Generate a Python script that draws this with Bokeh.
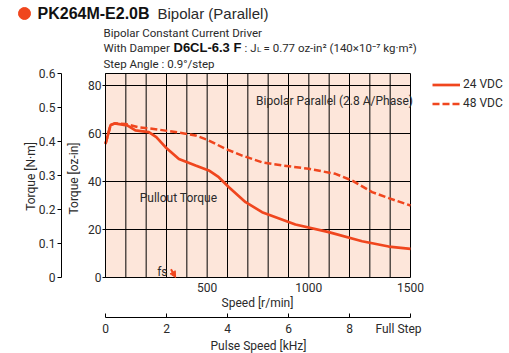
from math import pi
from bokeh.plotting import figure
from bokeh.models import (Range1d, LinearAxis, FixedTicker, Label, Legend, LegendItem,
                          Arrow, NormalHead, BoxAnnotation)
from bokeh.embed import file_html
from bokeh.resources import INLINE

# ---- data ----
speed_24 = [0, 25, 45, 75, 107, 147, 213, 250, 295, 361, 443, 508, 557, 607, 689, 770,
            934, 1098, 1262, 1393, 1500]
torque_24 = [55.7, 63.5, 64.2, 63.8, 63.4, 61.3, 60.6, 58.5, 54.3, 49.4, 46.7, 44.6, 41.8,
             37.6, 31.4, 27.2, 22.1, 18.9, 15.1, 12.9, 11.9]
speed_48 = [0, 25, 45, 98, 164, 246, 344, 443, 508, 590, 672, 770, 869, 1000, 1131, 1213,
            1311, 1426, 1500]
torque_48 = [55.7, 63.5, 64.2, 64.0, 62.6, 61.8, 60.6, 59.2, 57.1, 53.6, 50.8, 48.0, 46.7,
             45.3, 43.2, 40.4, 35.6, 32.1, 30.0]
series_names = ["24 VDC", "48 VDC"]
fs_speed = [322, 345]
fs_torque = [3.4, 0.0]

speed_ticks = [500, 1000, 1500]
speed_grid = [100, 200, 300, 400, 500, 600, 700, 800, 900, 1000, 1100, 1200, 1300, 1400]
oz_grid = [20, 40, 60, 80]
oz_ticks = [0, 20, 40, 60, 80]
nm_ticks = [0, 0.1, 0.2, 0.3, 0.4, 0.5, 0.6]
khz_ticks = [0, 2, 4, 6, 8, 10]
khz_labels = {10: ""}

X_MAX, Y_MAX, NM_MAX, KHZ_MAX = 1500, 85, 0.6, 10

# ---- page geometry (pixels) ----
W, H = 509, 353
PX0, PX1 = 105, 410        # speed 0 .. 1500
PY0, PY1 = 277, 73         # torque 0 .. 85 oz-in
KX = (PX1 - PX0) / X_MAX   # px per r/min
KY = (PY0 - PY1) / Y_MAX   # px per oz-in


def X(px):
    return (px - PX0) / KX


def Y(py):
    return (PY0 - py) / KY


NARROW = "Roboto"
TXT = "#2a2a2a"
RED = "#F0461E"
PEACH = "#FDE6DA"

p = figure(width=W, height=H, output_backend="svg", toolbar_location=None,
           x_range=Range1d(X(0), X(W)), y_range=Range1d(Y(H), Y(0)),
           x_axis_location=None, y_axis_location=None,
           min_border_left=0, min_border_right=0, min_border_top=0, min_border_bottom=0)
p.outline_line_color = None
p.background_fill_color = "white"
p.border_fill_color = "white"
p.xgrid.visible = False
p.ygrid.visible = False

p.extra_y_ranges = {"nm": Range1d(Y(H) * NM_MAX / Y_MAX, Y(0) * NM_MAX / Y_MAX)}
p.extra_x_ranges = {"khz": Range1d(X(0) * KHZ_MAX / X_MAX, X(W) * KHZ_MAX / X_MAX)}

# plot area
p.add_layout(BoxAnnotation(left=0, right=X_MAX, bottom=0, top=Y_MAX, fill_color=PEACH,
                           fill_alpha=1, line_color="black", line_width=1, line_alpha=1,
                           level="underlay"))
# grid lines
p.segment(x0=speed_grid, y0=[0] * len(speed_grid), x1=speed_grid, y1=[Y_MAX] * len(speed_grid),
          line_color="black", line_width=1)
p.segment(x0=[0] * len(oz_grid), y0=oz_grid, x1=[X_MAX] * len(oz_grid), y1=oz_grid,
          line_color="black", line_width=1)


def style_axis(ax):
    ax.major_label_text_font = NARROW
    ax.major_label_text_font_size = "12px"
    ax.major_label_text_color = TXT
    ax.minor_tick_line_color = None
    ax.axis_label = None


# oz-in axis
ya = LinearAxis(ticker=FixedTicker(ticks=oz_ticks), fixed_location=0, bounds=(0, Y_MAX))
style_axis(ya)
ya.major_tick_out = 3
ya.major_tick_in = 0
ya.major_label_standoff = 1
p.add_layout(ya, "left")

# N·m axis
na = LinearAxis(y_range_name="nm", ticker=FixedTicker(ticks=nm_ticks), fixed_location=X(61),
                bounds=(0, NM_MAX))
style_axis(na)
na.major_label_overrides = {0: "0"}
na.major_tick_out = 4
na.major_tick_in = 0
na.major_label_standoff = 2
p.add_layout(na, "left")

# speed axis
xa = LinearAxis(ticker=FixedTicker(ticks=speed_ticks), fixed_location=0, bounds=(0, X_MAX))
style_axis(xa)
xa.major_tick_out = 0
xa.major_tick_in = 0
xa.axis_line_color = None
xa.major_label_standoff = 5
p.add_layout(xa, "below")

# pulse speed axis
ka = LinearAxis(x_range_name="khz", ticker=FixedTicker(ticks=khz_ticks), fixed_location=Y(317),
                bounds=(0, KHZ_MAX))
style_axis(ka)
ka.major_label_overrides = khz_labels
ka.major_tick_in = 4
ka.major_tick_out = 0
ka.axis_line_color = "black"
ka.major_label_standoff = 6
p.add_layout(ka, "below")

# curves
r24 = p.line(speed_24, torque_24, line_color=RED, line_width=2.7)
r48 = p.line(speed_48, torque_48, line_color=RED, line_width=2.5, line_dash="7 3")

legend = Legend(items=[LegendItem(label=series_names[0], renderers=[r24]),
                       LegendItem(label=series_names[1], renderers=[r48])],
                location=(432, H - 112.5), padding=0, margin=0, spacing=0,
                glyph_width=28, glyph_height=19, label_height=19, label_standoff=3,
                label_text_font=NARROW, label_text_font_size="12px", label_text_color=TXT,
                background_fill_alpha=0, border_line_color=None)
p.add_layout(legend)

# fs marker
p.add_layout(Arrow(end=NormalHead(size=6, fill_color=RED, line_color=RED),
                   x_start=fs_speed[0], y_start=fs_torque[0], x_end=fs_speed[1], y_end=fs_torque[1],
                   line_color=RED, line_width=2))


def txt(px, py, t, align="left", font=NARROW, size="12px", style="normal", color=TXT, angle=0):
    p.add_layout(Label(x=X(px), y=Y(py), text=t, text_align=align, text_baseline="middle",
                       text_font=font, text_font_size=size, text_font_style=style,
                       text_color=color, angle=angle))


txt(167, 271, "fs", align="right")
txt(334, 100, "Bipolar Parallel (2.8 A/Phase)", align="center")
txt(178, 197, "Pullout Torque", align="center")

# axis titles
txt(30, 176, "Torque [N·m]", align="center", angle=pi / 2)
txt(73, 178, "Torque [oz-in]", align="center", angle=pi / 2)
txt(257, 302, "Speed [r/min]", align="center")
txt(398, 328, "Full Step", align="center")
txt(258, 345, "Pulse Speed [kHz]", align="center")

# header
HS = "11.5px"
p.scatter(x=[X(24)], y=[Y(13)], size=12, marker="circle", fill_color=RED, line_color=RED)
txt(37, 13, "PK264M-E2.0B", font="Liberation Sans", size="16px", style="bold", color="#111111")
txt(157, 13, "Bipolar (Parallel)", font="Liberation Sans", size="15px")
txt(103, 32, "Bipolar Constant Current Driver", size=HS)
txt(103, 47, "With Damper", size=HS)
txt(173, 47, "D6CL-6.3 F", font="Liberation Sans", size="13px", style="bold", color="#111111")
txt(244, 47, ": J", size=HS)
txt(256.5, 49, "L", size="8px")
txt(263, 47, "= 0.77 oz-in² (140×10⁻⁷ kg·m²)", size=HS)
txt(103, 63, "Step Angle : 0.9°/step", size=HS)

open("out.html", "w").write(file_html(p, INLINE))
